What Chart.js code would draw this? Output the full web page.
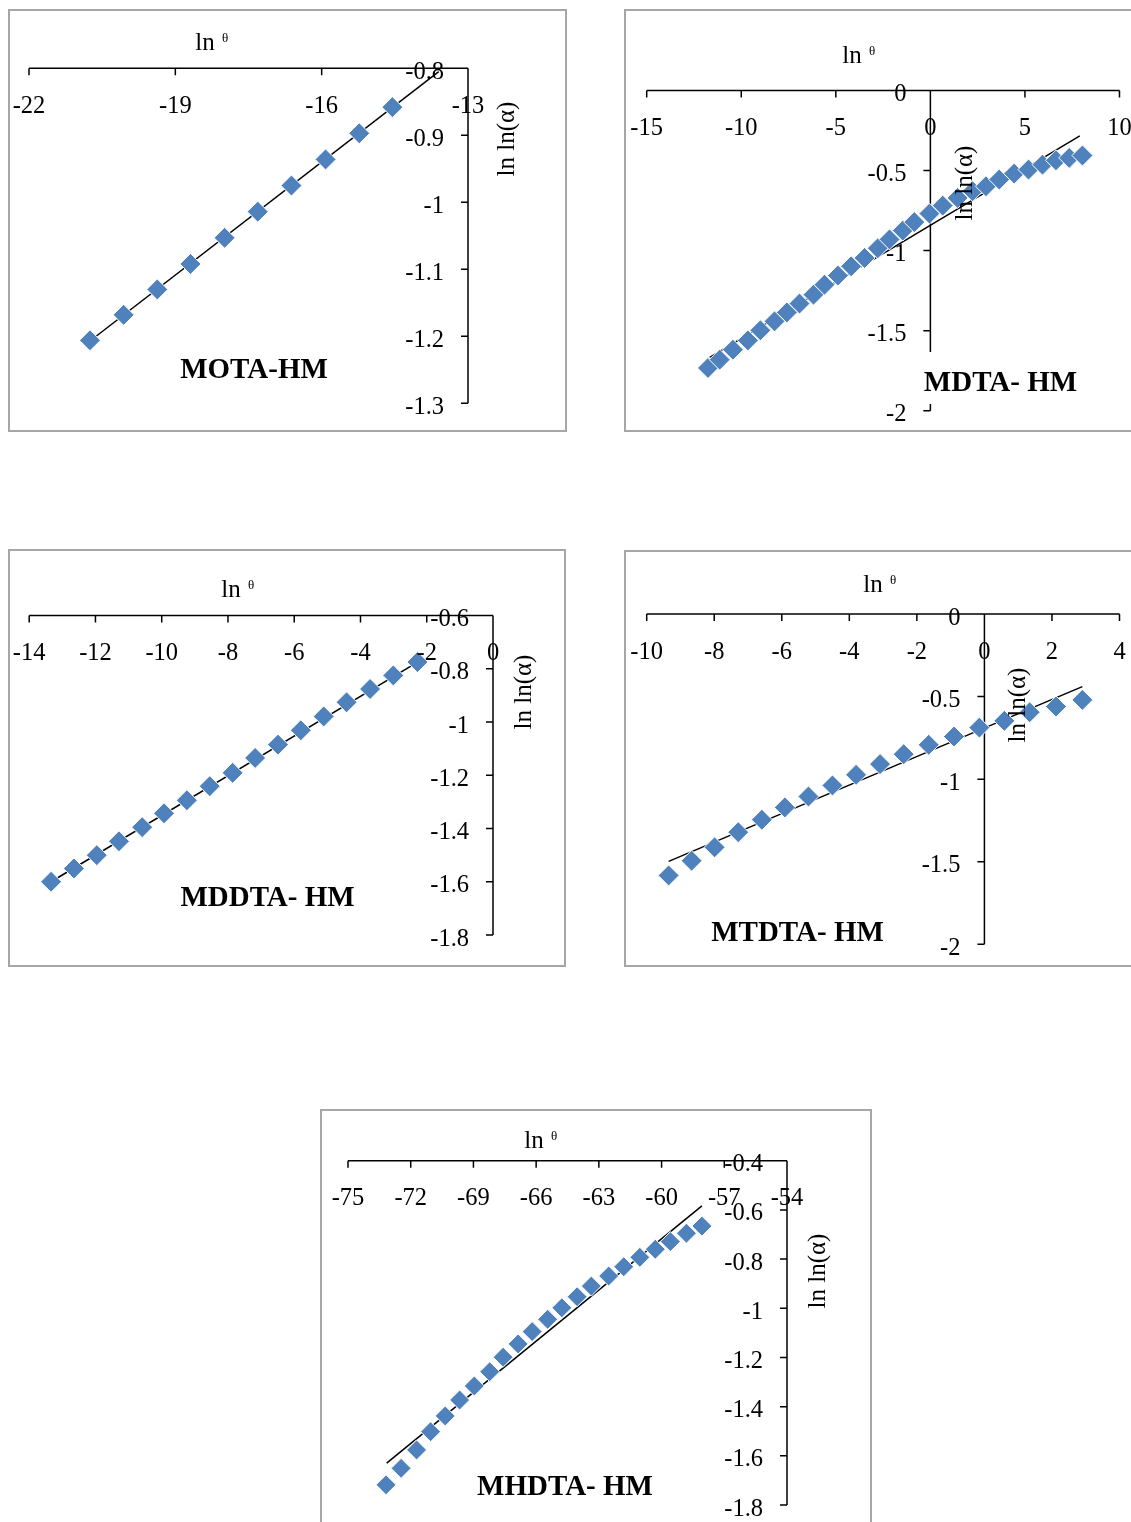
<!DOCTYPE html>
<html>
<head>
<meta charset="utf-8">
<title>ln ln(α) vs ln θ</title>
<script src="https://cdn.jsdelivr.net/npm/chart.js@4.4.1/dist/chart.umd.min.js"></script>
<style>
  html, body { margin: 0; padding: 0; background: #ffffff; }
  body { width: 1131px; height: 1522px; position: relative; overflow: hidden; }
  .frame { position: absolute; box-sizing: border-box; border: 2px solid #a6a6a6; }
  canvas { position: absolute; }
</style>
</head>
<body>
<div class="frame" style="left:8px;top:9px;width:559px;height:423px"></div>
<div class="frame" style="left:624px;top:9px;width:540px;height:423px"></div>
<div class="frame" style="left:8px;top:549px;width:558px;height:418px"></div>
<div class="frame" style="left:624px;top:550px;width:540px;height:417px"></div>
<div class="frame" style="left:320px;top:1109px;width:552px;height:440px"></div>

<canvas id="cMota"></canvas>
<canvas id="cMdta"></canvas>
<canvas id="cMddta"></canvas>
<canvas id="cMtdta"></canvas>
<canvas id="cMhdta"></canvas>

<script>
// ---- MOTA-HM ----
const motaLnTheta   = [-20.75, -20.06, -19.37, -18.69, -17.99, -17.31, -16.62, -15.92, -15.23, -14.55];
const motaLnLnAlpha = [-1.206, -1.168, -1.130, -1.092, -1.053, -1.014, -0.975, -0.936, -0.897, -0.858];
const motaFitX = [-20.75, -13.6];
const motaFitY = [-1.207, -0.805];
const motaXTicks = [-22, -19, -16, -13];
const motaYTicks = [-0.8, -0.9, -1, -1.1, -1.2, -1.3];

// ---- MDTA- HM ----
const mdtaLnTheta   = [-11.76, -11.14, -10.44, -9.65, -8.99, -8.24, -7.59, -6.92, -6.18, -5.60,
                       -4.89, -4.19, -3.48, -2.78, -2.16, -1.46, -0.85, -0.05, 0.65, 1.44,
                       2.23, 2.94, 3.64, 4.43, 5.19, 5.93, 6.64, 7.34, 8.04];
const mdtaLnLnAlpha = [-1.733, -1.681, -1.619, -1.561, -1.498, -1.442, -1.386, -1.331, -1.275, -1.213,
                       -1.156, -1.098, -1.046, -0.985, -0.930, -0.875, -0.822, -0.769, -0.719, -0.671,
                       -0.629, -0.598, -0.556, -0.519, -0.494, -0.463, -0.436, -0.421, -0.406];
const mdtaFitX = [-11.67, 7.9];
const mdtaFitY = [-1.667, -0.283];
const mdtaXTicks = [-15, -10, -5, 0, 5, 10];
const mdtaYTicks = [0, -0.5, -1, -1.5, -2];

// ---- MDDTA- HM ----
const mddtaLnTheta   = [-13.34, -12.65, -11.96, -11.29, -10.59, -9.93, -9.24, -8.55, -7.86,
                        -7.18, -6.49, -5.80, -5.11, -4.42, -3.71, -3.01, -2.28];
const mddtaLnLnAlpha = [-1.600, -1.550, -1.500, -1.448, -1.395, -1.343, -1.294, -1.241, -1.191,
                        -1.135, -1.085, -1.031, -0.979, -0.926, -0.876, -0.825, -0.775];
const mddtaFitX = [-13.34, -2.1];
const mddtaFitY = [-1.600, -0.762];
const mddtaXTicks = [-14, -12, -10, -8, -6, -4, -2, 0];
const mddtaYTicks = [-0.6, -0.8, -1, -1.2, -1.4, -1.6, -1.8];

// ---- MTDTA- HM ----
const mtdtaLnTheta   = [-9.35, -8.67, -7.99, -7.29, -6.59, -5.91, -5.21, -4.50, -3.80,
                        -3.09, -2.39, -1.65, -0.90, -0.15, 0.59, 1.34, 2.12, 2.90];
const mtdtaLnLnAlpha = [-1.583, -1.494, -1.413, -1.321, -1.246, -1.171, -1.105, -1.038, -0.974,
                        -0.909, -0.849, -0.792, -0.742, -0.688, -0.647, -0.595, -0.560, -0.520];
const mtdtaFitX = [-9.35, 2.9];
const mtdtaFitY = [-1.498, -0.44];
const mtdtaXTicks = [-10, -8, -6, -4, -2, 0, 2, 4];
const mtdtaYTicks = [0, -0.5, -1, -1.5, -2];

// ---- MHDTA- HM ----
const mhdtaLnTheta   = [-73.18, -72.46, -71.72, -71.05, -70.35, -69.66, -68.96, -68.22, -67.58, -66.86, -66.19,
                        -65.45, -64.77, -64.04, -63.36, -62.53, -61.81, -61.04, -60.30, -59.58, -58.81, -58.07];
const mhdtaLnLnAlpha = [-1.718, -1.651, -1.576, -1.502, -1.438, -1.373, -1.316, -1.258, -1.199, -1.145, -1.095,
                        -1.045, -0.998, -0.953, -0.910, -0.869, -0.831, -0.793, -0.760, -0.729, -0.695, -0.666];
const mhdtaFitX = [-73.15, -58.07];
const mhdtaFitY = [-1.630, -0.584];
const mhdtaXTicks = [-75, -72, -69, -66, -63, -60, -57, -54];
const mhdtaYTicks = [-0.4, -0.6, -0.8, -1, -1.2, -1.4, -1.6, -1.8];

const SERIF = '"Liberation Serif", "Times New Roman", serif';
const MARKER_BLUE = '#4F81BD';

const toPoints = (xs, ys) => xs.map((x, i) => ({ x: x, y: ys[i] }));

// Axes cross inside the plot: the ln θ axis runs along the top edge, the
// ln ln(α) axis is a vertical line at a chosen ln θ value with labels on its left.
const crossAxes = {
  id: 'crossAxes',
  beforeDatasetsDraw(chart, args, o) {
    const ctx = chart.ctx, xs = chart.scales.x, ys = chart.scales.y;
    const ay = ys.getPixelForValue(o.xAxisAt);
    const ax = xs.getPixelForValue(o.yAxisAt);
    ctx.save();
    ctx.strokeStyle = '#000';
    ctx.lineWidth = 1.5;
    ctx.beginPath();
    ctx.moveTo(xs.getPixelForValue(xs.min), ay);
    ctx.lineTo(xs.getPixelForValue(xs.max), ay);
    ctx.moveTo(ax, ys.getPixelForValue(ys.max));
    ctx.lineTo(ax, ys.getPixelForValue(ys.min));
    o.xTicks.forEach(v => {
      const p = xs.getPixelForValue(v);
      ctx.moveTo(p, ay); ctx.lineTo(p, ay + 7);
    });
    o.yTicks.forEach(v => {
      const p = ys.getPixelForValue(v);
      ctx.moveTo(ax - 7, p); ctx.lineTo(ax, p);
    });
    ctx.stroke();
    ctx.restore();
  },
  afterDatasetsDraw(chart, args, o) {
    const ctx = chart.ctx, xs = chart.scales.x, ys = chart.scales.y;
    const ay = ys.getPixelForValue(o.xAxisAt);
    const ax = xs.getPixelForValue(o.yAxisAt);
    const ox = o.origin[0], oy = o.origin[1];
    ctx.save();
    ctx.fillStyle = '#000';

    // tick labels
    ctx.font = '24.5px ' + SERIF;
    ctx.textBaseline = 'alphabetic';
    ctx.textAlign = 'center';
    o.xTicks.forEach(v => ctx.fillText(String(v), xs.getPixelForValue(v), ay + 44.5));
    ctx.textAlign = 'right';
    o.yTicks.forEach(v => ctx.fillText(String(v), ax - 24, ys.getPixelForValue(v) + 10.6));

    // horizontal axis title: ln θ
    const xt = o.xTitle;
    ctx.textAlign = 'center';
    ctx.font = '25px ' + SERIF;
    ctx.fillText('ln', xt[0] - ox, xt[1] - oy);
    ctx.font = '13px ' + SERIF;
    ctx.textBaseline = 'middle';
    ctx.fillText('θ', xt[0] - ox + 20, xt[1] - oy - 11);

    // vertical axis title: ln ln(α)
    const yt = o.yTitle;
    ctx.save();
    ctx.translate(yt[0] - ox, yt[1] - oy);
    ctx.rotate(-Math.PI / 2);
    ctx.font = '25px ' + SERIF;
    ctx.textBaseline = 'middle';
    ctx.fillText('ln ln(α)', 0, 0);
    ctx.restore();

    // sample name, on a white box where given
    if (o.nameBox) {
      const b = o.nameBox;
      ctx.fillStyle = '#ffffff';
      ctx.fillRect(b[0] - ox, b[1] - oy, b[2] - b[0], b[3] - b[1]);
      ctx.fillStyle = '#000';
    }
    ctx.font = 'bold 29px ' + SERIF;
    ctx.textBaseline = 'alphabetic';
    ctx.textAlign = 'center';
    ctx.fillText(o.name, o.namePos[0] - ox, o.namePos[1] - oy);
    ctx.restore();
  }
};

function makePanel(spec) {
  const c = document.getElementById(spec.id);
  const [left, top, w, h] = spec.canvas;
  c.width = w; c.height = h;
  c.style.left = left + 'px';
  c.style.top = top + 'px';
  // plot rectangle in page pixels: [x of min, x of max, y of max, y of min]
  const [px0, px1, py0, py1] = spec.plot;
  return new Chart(c, {
    type: 'scatter',
    data: {
      datasets: [
        {
          data: toPoints(spec.x, spec.y),
          pointStyle: 'rectRot',
          pointRadius: spec.marker,
          pointBackgroundColor: MARKER_BLUE,
          pointBorderColor: '#ffffff',
          pointBorderWidth: 1,
          showLine: false,
          clip: false,
          order: 0
        },
        {
          data: toPoints(spec.fitX, spec.fitY),
          showLine: true,
          borderColor: '#000000',
          borderWidth: 1.5,
          pointRadius: 0,
          clip: false,
          order: 1
        }
      ]
    },
    options: {
      responsive: false,
      animation: false,
      events: [],
      layout: {
        padding: {
          left: px0 - left,
          right: left + w - px1,
          top: py0 - top,
          bottom: top + h - py1
        }
      },
      plugins: {
        legend: { display: false },
        tooltip: { enabled: false },
        crossAxes: {
          origin: [left, top],
          xTicks: spec.xTicks,
          yTicks: spec.yTicks,
          xAxisAt: spec.yTicks[0],
          yAxisAt: spec.yAxisAt,
          xTitle: spec.xTitle,
          yTitle: spec.yTitle,
          name: spec.name,
          namePos: spec.namePos,
          nameBox: spec.nameBox || null
        }
      },
      scales: {
        x: { type: 'linear', display: false,
             min: Math.min(...spec.xTicks), max: Math.max(...spec.xTicks) },
        y: { type: 'linear', display: false,
             min: Math.min(...spec.yTicks), max: Math.max(...spec.yTicks) }
      }
    },
    plugins: [crossAxes]
  });
}

makePanel({
  id: 'cMota', canvas: [8, 9, 559, 423], plot: [29, 468, 68.3, 403.3],
  x: motaLnTheta, y: motaLnLnAlpha, fitX: motaFitX, fitY: motaFitY,
  xTicks: motaXTicks, yTicks: motaYTicks, yAxisAt: -13, marker: 10.5,
  xTitle: [205, 50], yTitle: [507, 139], name: 'MOTA-HM', namePos: [254, 377.5]
});

makePanel({
  id: 'cMdta', canvas: [624, 9, 507, 423], plot: [646.7, 1120, 90.5, 410.7],
  x: mdtaLnTheta, y: mdtaLnLnAlpha, fitX: mdtaFitX, fitY: mdtaFitY,
  xTicks: mdtaXTicks, yTicks: mdtaYTicks, yAxisAt: 0, marker: 10.5,
  xTitle: [852, 63], yTitle: [965, 183], name: 'MDTA- HM', namePos: [1000.5, 391],
  nameBox: [913, 352, 1090, 404]
});

makePanel({
  id: 'cMddta', canvas: [8, 549, 558, 418], plot: [29.2, 493, 615.5, 935],
  x: mddtaLnTheta, y: mddtaLnLnAlpha, fitX: mddtaFitX, fitY: mddtaFitY,
  xTicks: mddtaXTicks, yTicks: mddtaYTicks, yAxisAt: 0, marker: 10.5,
  xTitle: [231, 597], yTitle: [524, 692], name: 'MDDTA- HM', namePos: [267.5, 906]
});

makePanel({
  id: 'cMtdta', canvas: [624, 550, 507, 417], plot: [646.7, 1126, 614, 944.3],
  x: mtdtaLnTheta, y: mtdtaLnLnAlpha, fitX: mtdtaFitX, fitY: mtdtaFitY,
  xTicks: mtdtaXTicks, yTicks: mtdtaYTicks, yAxisAt: 0, marker: 10.5,
  xTitle: [873, 592], yTitle: [1018, 705], name: 'MTDTA- HM', namePos: [797.5, 941]
});

makePanel({
  id: 'cMhdta', canvas: [320, 1109, 552, 413], plot: [348, 787, 1160.7, 1505],
  x: mhdtaLnTheta, y: mhdtaLnLnAlpha, fitX: mhdtaFitX, fitY: mhdtaFitY,
  xTicks: mhdtaXTicks, yTicks: mhdtaYTicks, yAxisAt: -54, marker: 10,
  xTitle: [534, 1148], yTitle: [818, 1271], name: 'MHDTA- HM', namePos: [565, 1495]
});
</script>
</body>
</html>
